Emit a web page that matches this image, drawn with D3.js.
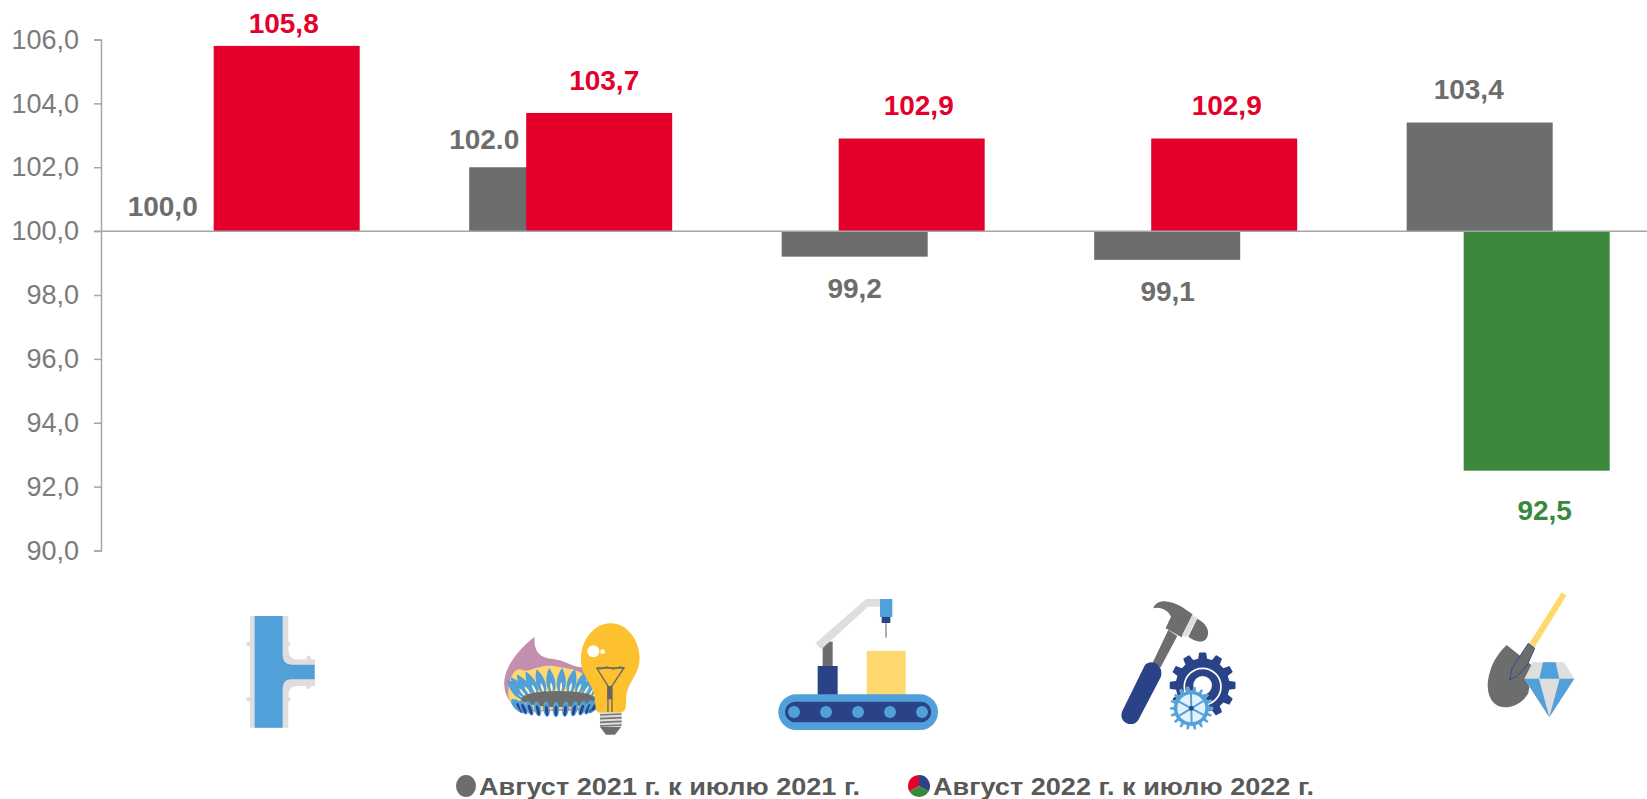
<!DOCTYPE html>
<html><head><meta charset="utf-8">
<script src="https://cdnjs.cloudflare.com/ajax/libs/d3/7.8.5/d3.min.js"></script>
<style>html,body{margin:0;padding:0;background:#fff;overflow:hidden}svg{display:block}text{font-family:"Liberation Sans",Arial,sans-serif}</style>
</head><body><svg id="c" width="1647" height="799"></svg>
<script>
const categories = ["Водоснабжение","Электроэнергия и газ","Обрабатывающие производства","Машиностроение","Добыча полезных ископаемых"];
const values2021 = [100.0,102.0,99.2,99.1,103.4];
const values2022 = [105.8,103.7,102.9,102.9,92.5];
const labels2021 = ["100,0","102.0","99,2","99,1","103,4"];
const labels2022 = ["105,8","103,7","102,9","102,9","92,5"];
const tickValues = [90,92,94,96,98,100,102,104,106];
const legendLabels = ["Август 2021 г. к июлю 2021 г.","Август 2022 г. к июлю 2022 г."];
// manual data-label placement as in the reference: [dx from bar centre, dy from bar end]
const nudge2021 = [[-67,-15],[-58,-18],[0,41],[0.5,41],[-11,-24]];
const nudge2022 = [[-3,-13],[5,-23],[7,-24],[2.5,-24],[8,49]];

const GRAY="#6d6d6d",RED="#e4002b",GREEN="#3b873b",NAVY="#2a4288",BLUE="#52a0da",LGRAY="#dedede",YEL="#fed96f";
const svg=d3.select("#c");
const y=d3.scaleLinear().domain([90,106]).range([550.5,39.5]);
const x0=d3.scaleBand().domain(categories).range([102,1664.5]).paddingInner(0.35).paddingOuter(0.175);
const bw=146, off=57;
const xA=c=>x0(c), xB=c=>x0(c)+off;

const ax=svg.append("g").attr("transform","translate(101,0)")
 .call(d3.axisLeft(y).tickValues(tickValues).tickSize(7).tickPadding(15).tickSizeOuter(7).tickFormat(d=>d3.format(".1f")(d).replace(".",",")));
ax.selectAll("text").attr("font-size",27).attr("fill","#7b7b7b").style("font-family",'"Liberation Sans",Arial,sans-serif');
ax.selectAll("line,path").attr("stroke","#a6a6a6").attr("stroke-width",1.5);

const bar=(vals,xf,col)=>svg.append("g").selectAll("rect").data(categories).join("rect")
 .attr("x",c=>xf(c)).attr("width",bw)
 .attr("y",(c,i)=>y(Math.max(vals[i],100))).attr("height",(c,i)=>Math.abs(y(vals[i])-y(100)))
 .attr("fill",(c,i)=>col(vals[i]));
bar(values2021,xA,()=>GRAY);
bar(values2022,xB,v=>v>=100?RED:GREEN);
svg.append("line").attr("x1",94).attr("x2",1647).attr("y1",y(100)).attr("y2",y(100)).attr("stroke","#a6a6a6").attr("stroke-width",1.5);

const lab=(vals,txt,xf,nd,col)=>svg.append("g").selectAll("text").data(categories).join("text")
 .attr("x",(c,i)=>xf(c)+bw/2+nd[i][0]).attr("y",(c,i)=>y(vals[i])+nd[i][1])
 .attr("text-anchor","middle").attr("font-size",28).attr("font-weight",700)
 .attr("fill",(c,i)=>col(vals[i])).text((c,i)=>txt[i]);
lab(values2021,labels2021,xA,nudge2021,()=>GRAY);
lab(values2022,labels2022,xB,nudge2022,v=>v>=100?RED:GREEN);

// legend
const lg=svg.append("g");
lg.append("ellipse").attr("cx",466).attr("cy",786).attr("rx",10).attr("ry",11).attr("fill",GRAY);
const pie=d3.pie().sort(null).startAngle(-2.1).endAngle(-2.1+2*Math.PI)(([1,1,1]));
const arc=d3.arc().innerRadius(0).outerRadius(11);
lg.append("g").attr("transform","translate(919,786)").selectAll("path").data(pie).join("path").attr("d",arc).attr("fill",(d,i)=>[RED,NAVY,GREEN][i]);
lg.selectAll("text").data(legendLabels).join("text").attr("x",(d,i)=>[479,933][i]).attr("y",794.5)
 .attr("font-size",24.5).attr("font-weight",700).attr("fill","#595959").attr("textLength",381).attr("lengthAdjust","spacingAndGlyphs").text(d=>d);

// icons: drawn in 3x units of the crop
const icon=(tx,ty)=>svg.append("g").attr("transform",`translate(${tx},${ty}) scale(0.3333)`);
const P=(g,d,fill,extra={})=>{const p=g.append("path").attr("d",d).attr("fill",fill);for(const k in extra)p.attr(k,extra[k]);return p;};
const gear=(g,cx,cy,rO,rI,n,fill)=>{
  const pts=[];for(let i=0;i<n;i++){const a=i/n*2*Math.PI,s=Math.PI/n;
    [[-.5,rI],[-.3,rO],[.3,rO],[.5,rI]].forEach(([f,r])=>pts.push([cx+r*Math.cos(a+f*s*1.05),cy+r*Math.sin(a+f*s*1.05)]));}
  return g.append("path").attr("d",d3.line().curve(d3.curveLinearClosed)(pts)).attr("fill",fill);
};

// tee pipe
const t=icon(200,580);
P(t,"M150 108H265V205Q265 238 290 238H345V318H290Q265 318 265 350V443H150Z",LGRAY);
[[146,192],[264,192],[146,358],[264,358],[326,234],[326,320]].forEach(([a,b])=>t.append("circle").attr("cx",a).attr("cy",b).attr("r",7).attr("fill",LGRAY));
P(t,"M164 108H248V225Q248 254 275 254H344V298H275Q248 298 248 325V443H164Z",BLUE);

// flame & bulb
P(t,"M1004 170C1000 215 1020 235 1060 237C1095 240 1115 262 1150 262L1200 390L960 395C925 370 905 330 915 290C925 245 965 200 1004 170Z","#c48fae");
P(t,"M925 340C925 300 940 265 962 268C985 280 1000 262 1020 262C1050 250 1090 265 1120 268L1190 300V380L960 395C940 380 925 365 925 340Z",YEL);
d3.range(12).forEach(i=>{
  const a=(190+i*14)*Math.PI/180;
  const bx=1075+108*Math.cos(a), by=357+22*Math.sin(a);
  const rot=(bx-1075)/108*42;
  const g=t.append("g").attr("transform",`translate(${bx},${by}) rotate(${rot})`);
  P(g,"M0 8C-20 -10 -16 -45 0 -72C16 -45 20 -10 0 8Z",BLUE);
  P(g,"M0 4Q-7 -14 0 -30Q7 -14 0 4Z","#fff4c8");
});
t.append("ellipse").attr("cx",1075).attr("cy",357).attr("rx",112).attr("ry",24).attr("fill",GRAY);
d3.range(13).forEach(i=>{const a=172-i*(164/12);const cx=1068+120*Math.cos(a*Math.PI/180),cy=374+14*Math.sin(a*Math.PI/180);
  const rot=(90-a)*0.45;
  t.append("ellipse").attr("cx",cx).attr("cy",cy).attr("rx",10).attr("ry",23).attr("fill",BLUE).attr("transform",`rotate(${rot} ${cx} ${cy})`);
  t.append("ellipse").attr("cx",cx).attr("cy",cy+5).attr("rx",4.5).attr("ry",16).attr("fill",NAVY).attr("transform",`rotate(${rot} ${cx} ${cy})`);
});
P(t,"M1232 130C1285 130 1319 185 1319 235C1319 280 1290 300 1280 340C1276 370 1284 395 1262 398H1200C1180 395 1190 360 1180 335C1168 300 1143 285 1143 235C1143 185 1180 130 1232 130Z","#fdc02f");
t.append("circle").attr("cx",1180).attr("cy",214).attr("r",18).attr("fill","#fff");
t.append("circle").attr("cx",1208).attr("cy",215).attr("r",7).attr("fill","#fff");
P(t,"M1190 264H1272L1236 318V396M1190 264L1224 318V396","none",{stroke:"#666","stroke-width":4});
P(t,"M1190 264Q1200 272 1210 264T1230 264T1250 264T1272 264","none",{stroke:"#666","stroke-width":3});
t.append("rect").attr("x",1222).attr("y",318).attr("width",14).attr("height",40).attr("fill","#666");
t.append("rect").attr("x",1200).attr("y",398).attr("width",65).attr("height",40).attr("fill",LGRAY);
[405,416,427,438].forEach(v=>t.append("line").attr("x1",1200).attr("x2",1265).attr("y1",v).attr("y2",v-3).attr("stroke","#777").attr("stroke-width",5));
P(t,"M1200 440H1264L1245 464H1218Z",GRAY);

// conveyor
const r=icon(740,580);
r.append("rect").attr("x",248).attr("y",185).attr("width",30).attr("height",80).attr("fill",GRAY);
P(r,"M226 190L378 57H420V80H384L244 208Z",LGRAY);
r.append("rect").attr("x",420).attr("y",57).attr("width",37).attr("height",54).attr("fill",BLUE);
r.append("rect").attr("x",425).attr("y",111).attr("width",26).attr("height",18).attr("fill",NAVY);
r.append("rect").attr("x",436).attr("y",129).attr("width",4).attr("height",44).attr("fill","#888");
r.append("rect").attr("x",233).attr("y",258).attr("width",60).attr("height",90).attr("fill",NAVY);
r.append("rect").attr("x",380).attr("y",213).attr("width",117).attr("height",135).attr("fill",YEL);
r.append("rect").attr("x",115).attr("y",343).attr("width",479).attr("height",107).attr("rx",53).attr("fill",BLUE);
r.append("rect").attr("x",135).attr("y",365).attr("width",439).attr("height",62).attr("rx",31).attr("fill",NAVY);
[162,258,354,450,546].forEach(v=>r.append("circle").attr("cx",v).attr("cy",396).attr("r",18).attr("fill",BLUE));

// hammer & gears
r.append("g").call(g=>{
  P(g,"M1285 150L1312 168L1262 262L1238 248Z",GRAY);
  P(g,"M1240 85C1250 55 1290 60 1325 80L1358 103L1325 172L1277 145L1293 110C1285 90 1260 78 1240 85Z",GRAY);
  P(g,"M1358 105L1372 115L1340 172L1326 165Z",LGRAY);
  P(g,"M1372 116C1400 130 1412 155 1400 175C1390 192 1365 185 1345 170Z",GRAY);
  P(g,"M1215 255C1235 235 1272 255 1263 290L1195 420C1180 445 1135 430 1146 395Z",NAVY);
});
gear(r,1388,316,96,78,12,NAVY).attr("stroke",NAVY).attr("stroke-width",6).attr("stroke-linejoin","round");
r.append("circle").attr("cx",1388).attr("cy",320).attr("r",55).attr("fill","none").attr("stroke","#fff").attr("stroke-width",5);
r.append("circle").attr("cx",1388).attr("cy",316).attr("r",28).attr("fill","#fff");
gear(r,1354,385,65,53,18,BLUE).attr("stroke","#fff").attr("stroke-width",1);
r.append("circle").attr("cx",1354).attr("cy",385).attr("r",42).attr("fill","#fff").attr("fill-opacity",0.85);
d3.range(6).forEach(i=>{const a=i*Math.PI/3+.5;r.append("line").attr("x1",1354).attr("y1",385).attr("x2",1354+48*Math.cos(a)).attr("y2",385+48*Math.sin(a)).attr("stroke",BLUE).attr("stroke-width",6);});
r.append("circle").attr("cx",1354).attr("cy",385).attr("r",7).attr("fill",NAVY);

// shovel & diamond
const s=icon(1440,580);
P(s,"M365 37L379 47L282 205L268 190Z",YEL);
P(s,"M200 195L278 258L265 340C245 375 205 390 175 378C145 365 135 320 150 275C160 240 180 215 200 195Z",GRAY);
P(s,"M265 190L284 205L262 255L233 287L209 300L216 265Z",GRAY,{stroke:"#2f4a8f","stroke-width":3});
P(s,"M278 247H372L403 296L328 412L253 296Z",LGRAY);
P(s,"M309 247H347L358 296H298Z",BLUE);
P(s,"M253 296H297L328 412Z",BLUE);
P(s,"M403 296H359L328 412Z",BLUE);
</script></body></html>
